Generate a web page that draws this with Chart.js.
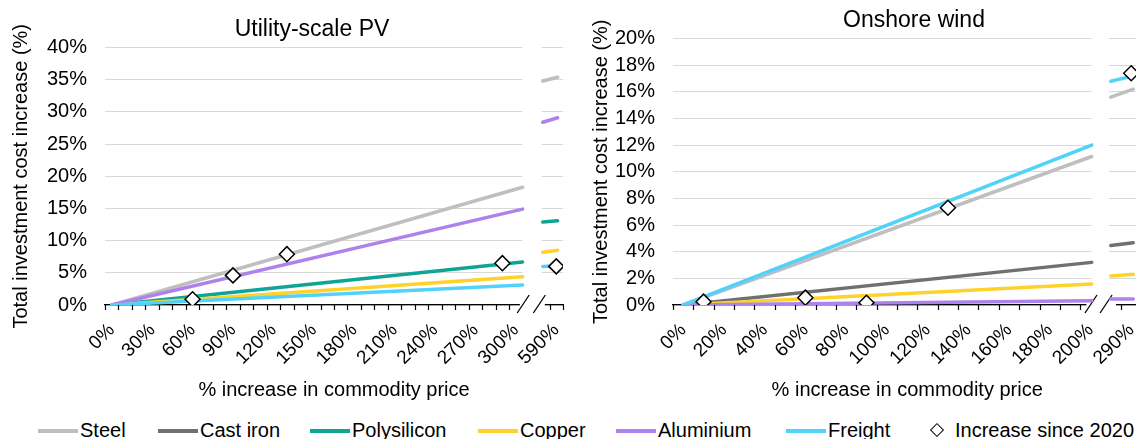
<!DOCTYPE html>
<html>
<head>
<meta charset="utf-8">
<title>Commodity price sensitivity</title>
<script src="https://cdn.jsdelivr.net/npm/chart.js@4.4.1/dist/chart.umd.min.js"></script>
<style>
  html, body { margin: 0; padding: 0; background: #fff; }
  body { width: 1136px; height: 439px; overflow: hidden; position: relative;
         font-family: "Liberation Sans", Arial, sans-serif; color: #000; }
  #pv { position: absolute; left: 0; top: 0; }
  #wind { position: absolute; left: 585px; top: 0; }
  .legend { position: absolute; left: 0; top: 418px; width: 1136px; height: 24px; font-size: 20px; }
  .legend .item { position: absolute; top: 0; height: 24px; line-height: 24px; white-space: nowrap; }
  .legend .swatch { display: inline-block; width: 40px; height: 4px; vertical-align: middle;
                    position: relative; top: -1px; margin-right: 2px; }
  .legend .diamond { display: inline-block; width: 8px; height: 8px; border: 1.5px solid #000;
                     background: #fff; transform: rotate(45deg); vertical-align: middle;
                     position: relative; top: -2px; margin: 0 13px 0 4px; }
</style>
</head>
<body>
<canvas id="pv" width="624" height="410"></canvas>
<canvas id="wind" width="658" height="410"></canvas>
<div class="legend" id="legend"></div>

<script>
// ---- values ----
const colours = {
  'Steel': '#BFBFBF',
  'Cast iron': '#707070',
  'Polysilicon': '#0FA595',
  'Copper': '#FFD22B',
  'Aluminium': '#AE82EC',
  'Freight': '#52D2FA'
};
const legendOrder = ['Steel', 'Cast iron', 'Polysilicon', 'Copper', 'Aluminium', 'Freight'];

// Utility-scale PV
const pvSeries = ['Steel', 'Polysilicon', 'Copper', 'Aluminium', 'Freight'];
const pvPriceMain = [0, 305];      // % increase in price, before the axis break
const pvPriceTail = [580, 591];    // % increase in price, after the axis break
const pvMainEnd = [18.3, 6.7, 4.4, 14.9, 3.1];
const pvTailStart = [34.8, 12.9, 8.2, 28.4, 6.0];
const pvTailEnd = [35.4, 13.1, 8.5, 29.1, 6.1];
const pvSinceX = [60, 90, 130, 290, 590];
const pvSinceY = [0.9, 4.6, 7.9, 6.5, 6.0];
const pvTickValues = [0, 30, 60, 90, 120, 150, 180, 210, 240, 270, 300, 590];
const pvTickLabels = ['0%', '30%', '60%', '90%', '120%', '150%', '180%', '210%', '240%', '270%', '300%', '590%'];

// Onshore wind
const windSeries = ['Steel', 'Cast iron', 'Copper', 'Aluminium', 'Freight'];
const windPriceMain = [0, 200.6];
const windPriceTail = [280, 291];
const windMainEnd = [11.15, 3.2, 1.58, 0.32, 12.0];
const windTailStart = [15.6, 4.46, 2.18, 0.45, 16.8];
const windTailEnd = [16.2, 4.68, 2.3, 0.45, 17.2];
const windSinceX = [10, 60, 90, 130, 290];
const windSinceY = [0.25, 0.55, 0.17, 7.3, 17.4];
const windTickValues = [0, 20, 40, 60, 80, 100, 120, 140, 160, 180, 200, 290];
const windTickLabels = ['0%', '20%', '40%', '60%', '80%', '100%', '120%', '140%', '160%', '180%', '200%', '290%'];

Chart.defaults.font.family = '"Liberation Sans", Arial, sans-serif';
Chart.defaults.color = '#000';

// axis break: values past the break are shifted left by `offset`
function axisPos(v, breakAt, offset) {
  return v > breakAt ? v - offset : v;
}

const axisBreak = {
  id: 'axisBreak',
  beforeDatasetsDraw(chart, args, o) {
    const {ctx, chartArea: a, scales: {x}} = chart;
    const px = v => x.getPixelForValue(v);
    ctx.save();
    ctx.fillStyle = '#fff';
    // gap in the gridlines
    ctx.fillRect(px(o.gridGap[0]), a.top - 2, px(o.gridGap[1]) - px(o.gridGap[0]), a.bottom - a.top);
    // gap in the axis line
    ctx.fillRect(px(o.axisGap[0]), a.bottom - 3, px(o.axisGap[1]) - px(o.axisGap[0]), 6);
    // tick marks between categories
    ctx.strokeStyle = '#000';
    ctx.lineWidth = 1.2;
    ctx.beginPath();
    o.ticks.forEach(v => {
      const p = Math.round(px(v)) + 0.5;
      ctx.moveTo(p, a.bottom);
      ctx.lineTo(p, a.bottom + 5);
    });
    ctx.stroke();
    // the two slashes
    ctx.lineWidth = 1.3;
    ctx.beginPath();
    o.slashes.forEach(v => {
      const p = px(v);
      ctx.moveTo(p, a.bottom + 8);
      ctx.lineTo(p + 12, a.bottom - 10);
    });
    ctx.stroke();
    ctx.restore();
  }
};

function buildDatasets(series, main, tail, mainEnd, tailStart, tailEnd, sinceX, sinceY, breakAt, offset) {
  const sets = series.map((name, i) => ({
    label: name,
    data: [
      {x: main[0], y: 0},
      {x: main[1], y: mainEnd[i]},
      {x: (main[1] + tail[0] - offset) / 2, y: null},
      {x: axisPos(tail[0], breakAt, offset), y: tailStart[i]},
      {x: axisPos(tail[1], breakAt, offset), y: tailEnd[i]}
    ],
    borderColor: colours[name],
    borderWidth: 3.5,
    borderCapStyle: 'round',
    pointRadius: 0,
    spanGaps: false,
    order: 10 + legendOrder.length - legendOrder.indexOf(name)
  }));
  sets.push({
    type: 'scatter',
    label: 'Increase since 2020',
    data: sinceX.map((v, i) => ({x: axisPos(v, breakAt, offset), y: sinceY[i]})),
    pointStyle: 'rectRot',
    pointRadius: 7.5,
    backgroundColor: '#fff',
    borderColor: '#000',
    borderWidth: 1.5,
    order: 0
  });
  return sets;
}

function makeChart(id, cfg) {
  return new Chart(document.getElementById(id), {
    type: 'line',
    data: {datasets: cfg.datasets},
    plugins: [axisBreak],
    options: {
      responsive: false,
      animation: false,
      events: [],
      layout: {padding: 0},
      plugins: {
        legend: {display: false},
        tooltip: {enabled: false},
        title: {
          display: true,
          text: cfg.title,
          font: {size: 23, weight: 'normal'},
          padding: cfg.titlePad
        },
        axisBreak: cfg.brk
      },
      scales: {
        x: {
          type: 'linear',
          min: cfg.xMin,
          max: cfg.xMax,
          grid: {display: false},
          border: {display: true, color: '#000', width: 1.3},
          afterBuildTicks: s => { s.ticks = cfg.tickValues.map(v => ({value: axisPos(v, cfg.breakAt, cfg.offset)})); },
          afterFit: s => { s.height = 105; },
          ticks: {
            autoSkip: false,
            minRotation: 45,
            maxRotation: 45,
            padding: 6,
            font: {size: 19},
            callback: (v, i) => cfg.tickLabels[i]
          },
          title: {
            display: true,
            text: '% increase in commodity price',
            font: {size: 20},
            padding: {top: 4, bottom: 8}
          }
        },
        y: {
          min: 0,
          max: cfg.yMax,
          grid: {color: '#D9D9D9', lineWidth: 1, drawTicks: false},
          border: {display: false},
          afterFit: s => { s.width = cfg.yWidth; },
          ticks: {
            stepSize: cfg.yStep,
            autoSkip: false,
            padding: 18,
            font: {size: 20},
            callback: v => v + '%'
          },
          title: {
            display: true,
            text: 'Total investment cost increase (%)',
            font: {size: 20},
            padding: {top: cfg.yTitlePad, bottom: 0}
          }
        },
        // empty right-hand box so the plot ends where the picture's does
        // while the chart title stays centred on the whole panel
        spacer: {
          position: 'right',
          min: 0,
          max: 1,
          grid: {display: false},
          border: {display: false},
          ticks: {display: false},
          afterFit: s => { s.width = cfg.padRight; }
        }
      }
    }
  });
}

makeChart('pv', {
  title: 'Utility-scale PV',
  titlePad: {top: 16, bottom: 4},
  datasets: buildDatasets(pvSeries, pvPriceMain, pvPriceTail, pvMainEnd, pvTailStart, pvTailEnd,
                          pvSinceX, pvSinceY, 305, 260),
  breakAt: 305, offset: 260,
  xMin: -5, xMax: 335,
  tickValues: pvTickValues, tickLabels: pvTickLabels,
  yMax: 40, yStep: 5, yWidth: 105, yTitlePad: 9,
  padRight: 61,
  brk: {
    gridGap: [305, 319],
    axisGap: [303, 321.5],
    ticks: [-5, 5, 15, 25, 35, 45, 55, 65, 75, 85, 95, 105, 115, 125, 135, 145, 155, 165, 175,
            185, 195, 205, 215, 225, 235, 245, 255, 265, 275, 285, 295, 325, 335],
    slashes: [301, 313]
  }
});

makeChart('wind', {
  title: 'Onshore wind',
  titlePad: {top: 7, bottom: 4},
  datasets: buildDatasets(windSeries, windPriceMain, windPriceTail, windMainEnd, windTailStart, windTailEnd,
                          windSinceX, windSinceY, 201, 70),
  breakAt: 201, offset: 70,
  xMin: -5, xMax: 225,
  tickValues: windTickValues, tickLabels: windTickLabels,
  yMax: 20, yStep: 2, yWidth: 88, yTitlePad: 4,
  padRight: 101.6,
  brk: {
    gridGap: [200.6, 209],
    axisGap: [198, 212.5],
    ticks: [-5, 5, 15, 25, 35, 45, 55, 65, 75, 85, 95, 105, 115, 125, 135, 145, 155, 165, 175,
            185, 195, 215, 225],
    slashes: [197.3, 204.7]
  }
});

// shared legend
const legendLeft = [38, 158, 310, 478, 616, 786];
const legend = document.getElementById('legend');
legendOrder.forEach((name, i) => {
  const item = document.createElement('div');
  item.className = 'item';
  item.style.left = legendLeft[i] + 'px';
  item.innerHTML = '<span class="swatch" style="background:' + colours[name] + '"></span>' + name;
  legend.appendChild(item);
});
const since = document.createElement('div');
since.className = 'item';
since.style.left = '928px';
since.innerHTML = '<span class="diamond"></span>Increase since 2020';
legend.appendChild(since);
</script>
</body>
</html>
